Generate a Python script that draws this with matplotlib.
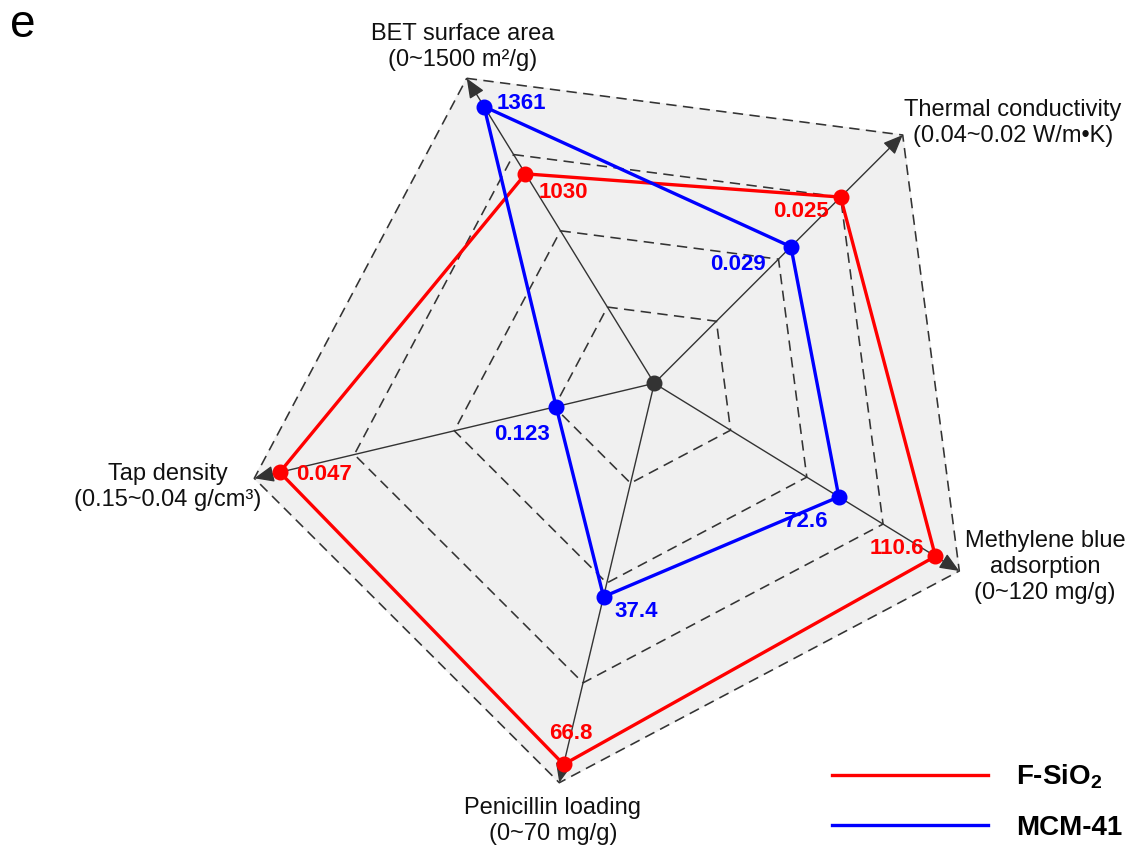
import numpy as np
import matplotlib
matplotlib.use('Agg')
from matplotlib import pyplot as plt

plt.rcParams['font.family'] = ['Liberation Sans', 'DejaVu Sans']
plt.rcParams['mathtext.fontset'] = 'custom'
plt.rcParams['mathtext.rm'] = 'Liberation Sans'
plt.rcParams['mathtext.bf'] = 'Liberation Sans:bold'

# properties, in drawing order around the web
props = ['BET surface area\n(0~1500 m²/g)',
         'Thermal conductivity\n(0.04~0.02 W/m•K)',
         'Methylene blue\nadsorption\n(0~120 mg/g)',
         'Penicillin loading\n(0~70 mg/g)',
         'Tap density\n(0.15~0.04 g/cm³)']
# value at the centre and at the tip of each axis (reversed where lower is better)
lo = [0, 0.04, 0, 0, 0.15]
hi = [1500, 0.02, 120, 70, 0.04]

names = ['F-SiO$_\\mathbf{2}$', 'MCM-41']
fsio2 = [1030, 0.025, 110.6, 66.8, 0.047]
mcm41 = [1361, 0.029, 72.6, 37.4, 0.123]
fsio2_txt = ['1030', '0.025', '110.6', '66.8', '0.047']
mcm41_txt = ['1361', '0.029', '72.6', '37.4', '0.123']

# web geometry (pixel space, y down)
centre = np.array([654.3, 383.3])
tips = np.array([[466.7, 78.3], [902.7, 135.0], [959.3, 571.0],
                 [559.3, 782.7], [254.3, 478.3]])
label_pos = [(463, 47), (1013, 123), (1045, 567), (553, 821), (168, 487)]

def to_xy(vals):
    r = [(v - a) / (b - a) for v, a, b in zip(vals, lo, hi)]
    return np.array([centre + ri * (t - centre) for ri, t in zip(r, tips)])

fig = plt.figure(figsize=(11.28, 8.47), dpi=100)
ax = fig.add_axes([0, 0, 1, 1])
ax.set_xlim(0, 1128)
ax.set_ylim(847, 0)
ax.axis('off')

# grey background and dashed rings
ax.fill(tips[:, 0], tips[:, 1], color='#f0f0f0', zorder=0)
for q in [0.25, 0.5, 0.75, 1.0]:
    ring = centre + q * (tips - centre)
    ring = np.vstack([ring, ring[:1]])
    ax.plot(ring[:, 0], ring[:, 1], color='#333333', lw=1.15,
            ls=(0, (6.5, 4)), zorder=1)

# axes with arrow heads
for t in tips:
    ax.annotate('', xy=t, xytext=centre,
                arrowprops=dict(arrowstyle='-|>,head_length=0.6,head_width=0.25',
                                color='#333333', lw=1.0, mutation_scale=20,
                                shrinkA=0, shrinkB=0), zorder=2)

for txt, (x, y) in zip(props, label_pos):
    ax.text(x, y, txt, ha='center', va='center', fontsize=17,
            linespacing=1.23, color='#111111')

# the two materials
series = [(fsio2, fsio2_txt, 'red', names[0]), (mcm41, mcm41_txt, 'blue', names[1])]
handles = []
for vals, txts, col, name in series:
    pts = to_xy(vals)
    closed = np.vstack([pts, pts[:1]])
    h, = ax.plot(closed[:, 0], closed[:, 1], color=col, lw=2.4, zorder=3, label=name)
    handles.append(h)
    ax.plot(pts[:, 0], pts[:, 1], 'o', color=col, ms=10.5, zorder=4)

ax.plot(*centre, 'o', color='#333333', ms=10.5, zorder=4)

# value labels, offset from their points (pixels, y up)
f_off = [(38, -19, 'center'), (-40, -14, 'center'), (-39, 8, 'center'),
         (7, 31, 'center'), (16, -2, 'left')]
m_off = [(13, 3, 'left'), (-53, -18, 'center'), (-33, -25, 'center'),
         (33, -15, 'center'), (-34, -28, 'center')]
for (vals, txts, col, _), offs in zip(series, [f_off, m_off]):
    for p, s, (dx, dy, ha) in zip(to_xy(vals), txts, offs):
        ax.annotate(s, xy=p, xytext=(dx, dy), textcoords='offset pixels',
                    ha=ha, va='center', fontsize=16, fontweight='bold',
                    color=col, zorder=5)

ax.text(23, 25, 'e', ha='center', va='center', fontsize=33)

ax.legend(handles=handles, loc='lower right', frameon=False,
          prop={'weight': 'bold', 'size': 20}, handlelength=5.6,
          handletextpad=1.0, labelspacing=0.85, borderpad=0, borderaxespad=0,
          bbox_to_anchor=(1122 / 1128, 6 / 847), bbox_transform=fig.transFigure)

fig.savefig('out.png', dpi=100)
